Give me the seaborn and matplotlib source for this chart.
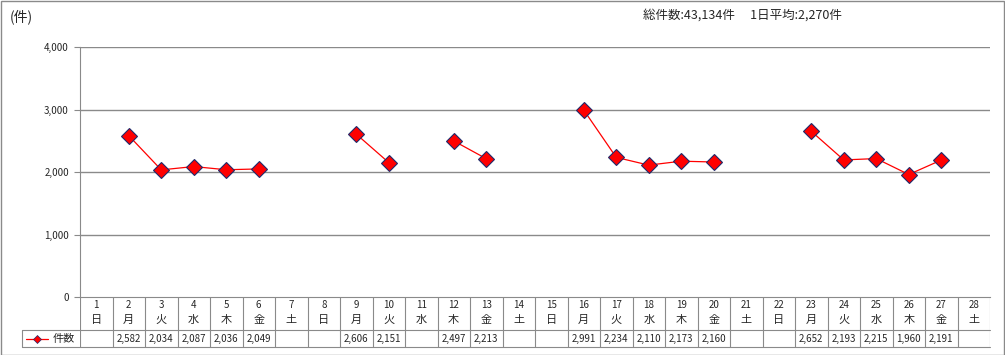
import seaborn as sns
import matplotlib.pyplot as plt
import numpy as np
import pandas as pd

# データ
days = list(range(1, 29))
weekdays = ['日', '月', '火', '水', '木', '金', '土'] * 4
counts = [np.nan, 2582, 2034, 2087, 2036, 2049, np.nan,
          np.nan, 2606, 2151, np.nan, 2497, 2213, np.nan,
          np.nan, 2991, 2234, 2110, 2173, 2160, np.nan,
          np.nan, 2652, 2193, 2215, 1960, 2191, np.nan]
series_name = '件数'
y_ticks = [0, 1000, 2000, 3000, 4000]

sns.set_style('white')
plt.rcParams['font.family'] = ['Noto Sans CJK JP', 'DejaVu Sans']

df = pd.DataFrame({'day': days, 'wd': weekdays, 'count': counts})
df['pos'] = np.arange(len(df))
# 連続した日ごとに線を分ける
df['seg'] = df['count'].isna().cumsum()
plot_df = df.dropna(subset=['count'])

W, H = 1005, 355
fig = plt.figure(figsize=(W / 100, H / 100), dpi=100)
ax = fig.add_axes([80 / W, (H - 297) / H, 910 / W, 250 / H])
tab = fig.add_axes([80 / W, (H - 347) / H, 910 / W, 50 / H])

sns.lineplot(data=plot_df, x='pos', y='count', units='seg', estimator=None,
             color='red', lw=0.9, marker='D', markersize=8,
             markerfacecolor='red', markeredgecolor='#1f2a6b',
             markeredgewidth=0.8, ax=ax)

ax.set_xlim(-0.5, len(days) - 0.5)
ax.set_ylim(0, 4000)
ax.set_yticks(y_ticks)
ax.set_yticklabels([f'{v:,}' for v in y_ticks], fontsize=7)
ax.set_xticks([])
ax.set_xlabel('')
ax.set_ylabel('')
for v in y_ticks[1:]:
    ax.axhline(v, color='#8a8a8a', lw=1, zorder=0)
for s in ['top', 'right']:
    ax.spines[s].set_visible(False)
ax.spines['left'].set_color('#8a8a8a')
ax.spines['bottom'].set_color('#8a8a8a')
ax.tick_params(axis='y', length=4, width=0.8, color='#8a8a8a', pad=4, left=True)

# 表
tab.set_xlim(-0.5, len(days) - 0.5)
tab.set_ylim(0, 50)
tab.axis('off')
gc = '#8a8a8a'
x0 = -0.5 - 58 / 32.5
for k in range(len(days) + 1):
    tab.plot([k - 0.5, k - 0.5], [0, 50], color=gc, lw=0.8)
tab.plot([x0, len(days) - 0.5], [17, 17], color=gc, lw=0.8, clip_on=False)
tab.plot([x0, len(days) - 0.5], [0, 0], color=gc, lw=0.8, clip_on=False)
tab.plot([x0, x0], [0, 17], color=gc, lw=0.8, clip_on=False)
for i, r in df.iterrows():
    tab.text(r['pos'], 42, str(r['day']), ha='center', va='center', fontsize=7)
    tab.text(r['pos'], 27, r['wd'], ha='center', va='center', fontsize=8)
    if not np.isnan(r['count']):
        tab.text(r['pos'], 8.5, f"{int(r['count']):,}", ha='center', va='center', fontsize=7)

# 凡例
lx = x0 + 4 / 32.5
tab.plot([lx, lx + 22 / 32.5], [8.5, 8.5], color='red', lw=0.9, clip_on=False)
tab.plot([lx + 11 / 32.5], [8.5], marker='D', color='red', markersize=4,
         markeredgecolor='#1f2a6b', markeredgewidth=0.5, clip_on=False)
tab.text(lx + 27 / 32.5, 8.5, series_name, ha='left', va='center', fontsize=8, clip_on=False)

total = int(np.nansum(counts))
avg = total / np.count_nonzero(~np.isnan(counts))
fig.text(643 / W, 1 - 15 / H, f'総件数:{total:,}件　 1日平均:{avg:,.0f}件',
         ha='left', va='center', fontsize=9)
fig.text(10 / W, 1 - 17 / H, '(件)', ha='left', va='center', fontsize=10)

# 外枠
fig.patches.append(plt.Rectangle((0.5 / W, 0.5 / H), 1 - 1.5 / W, 1 - 1.5 / H,
                                 transform=fig.transFigure, fill=False,
                                 edgecolor='#8a8a8a', lw=1))

fig.savefig('out.png', dpi=100)
